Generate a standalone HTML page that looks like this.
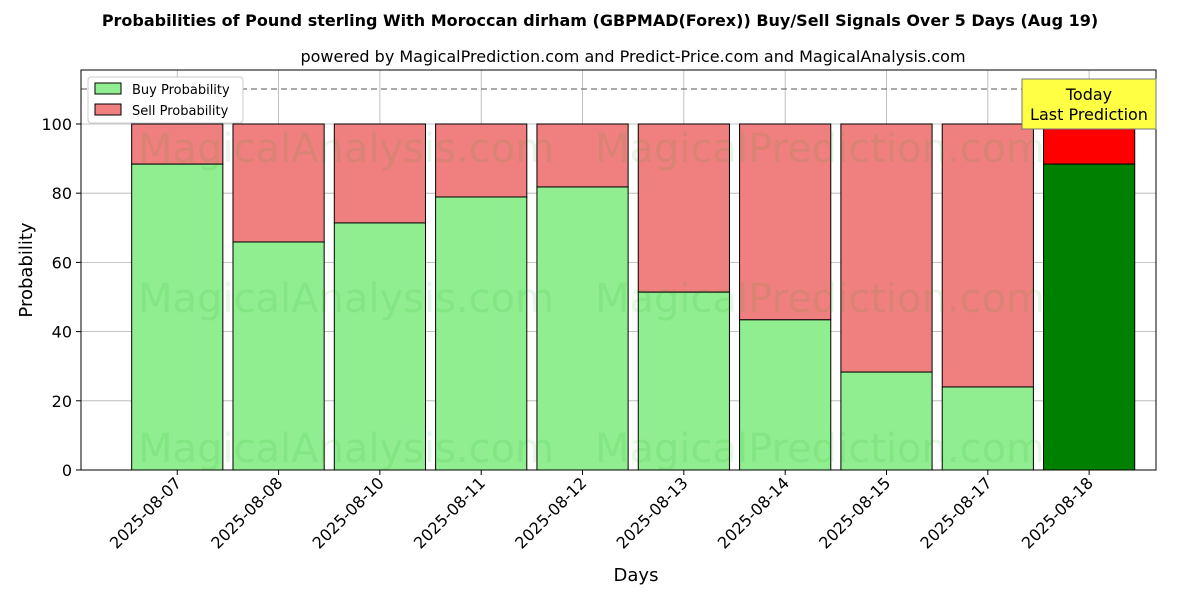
<!DOCTYPE html>
<html><head><meta charset="utf-8"><style>
body{margin:0;background:#fff;font-family:"Liberation Sans","DejaVu Sans",sans-serif;}
svg text{font-family:"DejaVu Sans","Liberation Sans",sans-serif;}
</style></head><body>
<svg id="chart" width="1200" height="600" xmlns="http://www.w3.org/2000/svg">
<text x="600" y="26" text-anchor="middle" font-size="16" font-weight="bold">Probabilities of Pound sterling With Moroccan dirham (GBPMAD(Forex)) Buy/Sell Signals Over 5 Days (Aug 19)</text>
<text x="633" y="62" text-anchor="middle" font-size="16">powered by MagicalPrediction.com and Predict-Price.com and MagicalAnalysis.com</text>
<g id="grid"></g>
<g id="bars"></g>
<g id="wm" fill="rgba(0,150,0,0.09)" font-size="40">
<text x="346" y="162" text-anchor="middle">MagicalAnalysis.com</text>
<text x="820" y="162" text-anchor="middle">MagicalPrediction.com</text>
<text x="346" y="312" text-anchor="middle">MagicalAnalysis.com</text>
<text x="820" y="312" text-anchor="middle">MagicalPrediction.com</text>
<text x="346" y="462" text-anchor="middle">MagicalAnalysis.com</text>
<text x="820" y="462" text-anchor="middle">MagicalPrediction.com</text>
</g>
<line x1="81" x2="1156" y1="89" y2="89" stroke="#777" stroke-dasharray="6,4" stroke-width="1.2"/>
<rect x="81" y="70" width="1075" height="400" fill="none" stroke="#000" stroke-width="1"/>
<g id="axes"></g>
<text x="636" y="581" text-anchor="middle" font-size="18">Days</text>
<text transform="translate(32,270) rotate(-90)" text-anchor="middle" font-size="18">Probability</text>
<g>
<rect x="88" y="77" width="155" height="46" fill="#fff" stroke="#ccc" rx="3"/>
<rect x="95" y="83" width="26" height="11" fill="#90ee90" stroke="#000"/>
<text x="132" y="94" font-size="13">Buy Probability</text>
<rect x="95" y="104" width="26" height="11" fill="#f08080" stroke="#000"/>
<text x="132" y="115" font-size="13">Sell Probability</text>
</g>
<g>
<rect x="1022" y="79" width="134" height="50" fill="#ffff44" stroke="#777"/>
<text x="1089" y="100" text-anchor="middle" font-size="16">Today</text>
<text x="1089" y="120" text-anchor="middle" font-size="16">Last Prediction</text>
</g>
</svg>
<script>
const categories=["2025-08-07","2025-08-08","2025-08-10","2025-08-11","2025-08-12","2025-08-13","2025-08-14","2025-08-15","2025-08-17","2025-08-18"];
const buyValues=[88.4,65.9,71.4,78.9,81.8,51.4,43.4,28.3,24.0,88.4];
const yTicks=[0,20,40,60,80,100];
const NS="http://www.w3.org/2000/svg";
const X0=81,X1=1156,Y0=470,Y1=70,XMIN=-0.95,XMAX=9.66,YMAX=115.6;
const xs=i=>X0+(i-XMIN)/(XMAX-XMIN)*(X1-X0);
const ys=v=>Y0-v/YMAX*(Y0-Y1);
const bw=0.9*(X1-X0)/(XMAX-XMIN);
function mk(t,a,p){const e=document.createElementNS(NS,t);for(const k in a)e.setAttribute(k,a[k]);p.appendChild(e);return e;}
const grid=document.getElementById('grid'),bars=document.getElementById('bars'),axes=document.getElementById('axes');
yTicks.forEach(v=>{
 const l=mk('line',{x1:X0,x2:X1,y1:ys(v),y2:ys(v),stroke:'#b0b0b0','stroke-width':0.8},grid);
 
 
 mk('line',{x1:X0-5,x2:X0,y1:ys(v),y2:ys(v),stroke:'#000'},axes);
 const t=mk('text',{x:X0-9,y:ys(v)+6,'text-anchor':'end','font-size':16},axes);
 t.textContent=v;
 
 
});
categories.forEach((c,i)=>{
 const cx=xs(i);
 const g=mk('line',{x1:cx,x2:cx,y1:Y1,y2:Y0,stroke:'#b0b0b0','stroke-width':0.8},grid);
 
 
 const last=i===categories.length-1;
 const b=buyValues[i];
 const s=mk('rect',{x:cx-bw/2,y:ys(100),width:bw,height:ys(b)-ys(100),fill:last?'#ff0000':'#f08080',stroke:'#000','stroke-width':1},bars);
 
 
 const r=mk('rect',{x:cx-bw/2,y:ys(b),width:bw,height:ys(0)-ys(b),fill:last?'#008000':'#90ee90',stroke:'#000','stroke-width':1},bars);
 
 
 mk('line',{x1:cx,x2:cx,y1:Y0,y2:Y0+5,stroke:'#000'},axes);
 const t=mk('text',{'text-anchor':'end','font-size':16,transform:`translate(${cx+5},${Y0+14}) rotate(-45)`},axes);
 t.textContent=c;
 
 
});
</script>
</body></html>
